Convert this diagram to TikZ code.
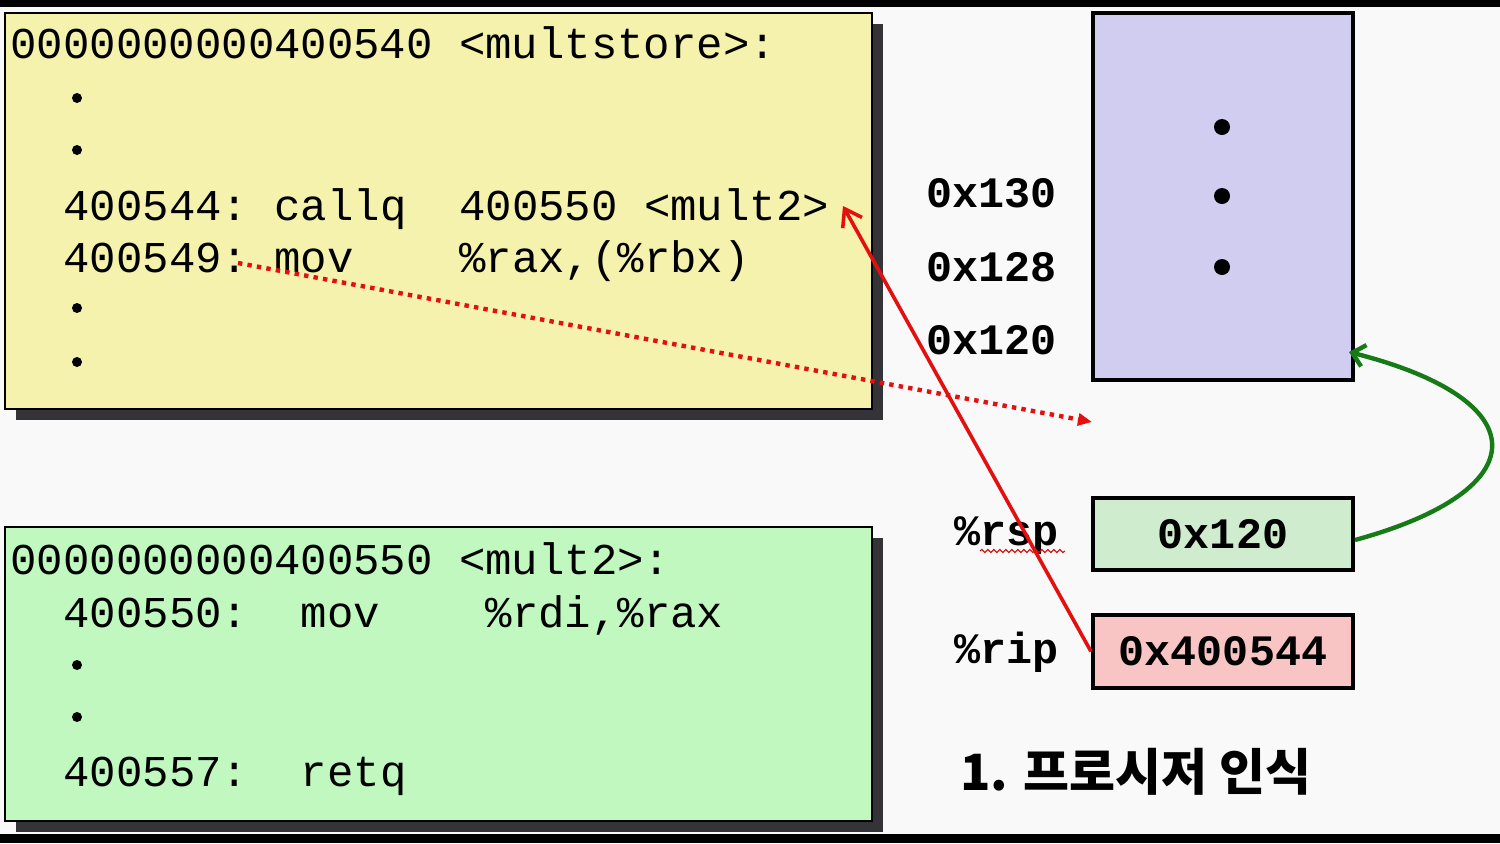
\documentclass[tikz,border=0pt]{standalone}
\usepackage{fontspec}
\setmonofont{Liberation Mono}
\newfontfamily\krfont{Noto Sans CJK KR}
\usetikzlibrary{arrows.meta,shadows,decorations.pathmorphing}
\definecolor{bgc}{RGB}{249,249,249}
\definecolor{yellowc}{RGB}{244,242,172}
\definecolor{greenc}{RGB}{192,248,192}
\definecolor{shadowc}{RGB}{52,52,56}
\definecolor{memc}{RGB}{208,205,240}
\definecolor{rspc}{RGB}{208,236,206}
\definecolor{ripc}{RGB}{248,196,196}
\definecolor{arrred}{RGB}{228,16,16}
\definecolor{arrgreen}{RGB}{22,122,22}
\begin{document}
\begin{tikzpicture}[x=0.5pt,y=-0.5pt,
  codebox/.style={draw=black, line width=1pt, minimum width=433.5pt, minimum height=198pt, inner sep=0,
    general shadow={fill=shadowc, shadow xshift=5.5pt, shadow yshift=-5.5pt}},
  code/.style={anchor=base west, inner sep=0, font=\ttfamily\fontsize{22}{24}\selectfont},
  lbl/.style={anchor=base west, inner sep=0, font=\ttfamily\bfseries\fontsize{21.7}{24}\selectfont},
  regbox/.style={draw=black, line width=2pt, minimum width=130pt, minimum height=36pt, inner sep=0,
    font=\ttfamily\bfseries\fontsize{21.7}{24}\selectfont},
  codedot/.style={circle, fill=black, inner sep=0, minimum size=5pt},
  memdot/.style={circle, fill=black, inner sep=0, minimum size=8pt},
]
\useasboundingbox (0,0) rectangle (1500,843);
\fill[bgc] (0,0) rectangle (1500,843);
\fill[black] (0,0) rectangle (1500,7);
\fill[black] (0,834) rectangle (1500,843);

% code boxes
\node[codebox, fill=yellowc] (ybox) at (438.5,211) {};
\node[codebox, fill=greenc, minimum height=147pt] (gbox) at (438.5,674) {};

\node[code] (y0) at (10,58) {0000000000400540 <multstore>:};
\node[codedot] (yd1) at (77,98) {};
\node[codedot] (yd2) at (77,150) {};
\node[code] (y1) at (63,220) {400544:\ callq\ \ 400550\ <mult2>};
\node[code] (y2) at (63,272) {400549:\ mov\ \ \ \ \%rax,(\%rbx)};
\node[codedot] (yd3) at (77,308) {};
\node[codedot] (yd4) at (77,362) {};

\node[code] (g0) at (10,574) {0000000000400550 <mult2>:};
\node[code] (g1) at (63,627) {400550:\ \ mov\ \ \ \ \%rdi,\%rax};
\node[codedot] (gd1) at (77,665) {};
\node[codedot] (gd2) at (77,717) {};
\node[code] (g2) at (63,786) {400557:\ \ retq};

% stack
\node[draw=black, line width=2pt, fill=memc, minimum width=130pt, minimum height=183.5pt, inner sep=0] (mem) at (1223,196.5) {};
\node[memdot] (md1) at (1222,127) {};
\node[memdot] (md2) at (1222,196) {};
\node[memdot] (md3) at (1222,267) {};
\node[lbl] (a130) at (926,207) {0x130};
\node[lbl] (a128) at (926,281) {0x128};
\node[lbl] (a120) at (926,354) {0x120};

% registers
\node[regbox, fill=rspc] (rsp) at (1223,534) {0x120};
\node[regbox, fill=ripc, minimum height=36.5pt] (rip) at (1223,651.5) {0x400544};
\node[lbl] (rsplbl) at (954,545) {\%rsp};
\node[lbl] (riplbl) at (954,663) {\%rip};
\draw[red!85!black, line width=0.5pt, decorate, decoration={snake, amplitude=0.8pt, segment length=3pt}]
  (980,551) -- (1065,551);

\node[anchor=base west, inner sep=0, font=\krfont\bfseries\fontsize{25}{29}\selectfont] (title) at (960,790) {1. 프로시저 인식};

% arrows
\coordinate (calltip) at (843,206);
\coordinate (movsrc) at (238,263);
\coordinate (stacktip) at (1092,422);
\draw[arrred, line width=2.2pt, dash pattern=on 2.2pt off 2.6pt,
  -{Triangle[length=7pt,width=6pt]}] (movsrc) -- (stacktip);
\draw[arrred, line width=1.8pt, -{Straight Barb[length=8pt,width=11pt]}] (rip.west) -- (calltip);
\draw[arrgreen, line width=2.2pt, -{Straight Barb[length=6pt,width=11pt]}]
  ([yshift=-3pt]rsp.east) .. controls (1538,490) and (1538,400) .. ([xshift=-3pt,yshift=15pt]mem.south east);
\end{tikzpicture}
\end{document}
